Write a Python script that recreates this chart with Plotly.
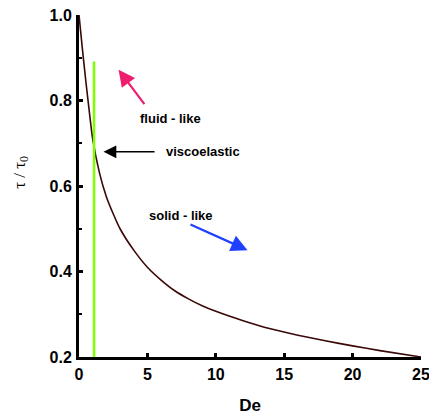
import plotly.graph_objects as go

# Data
de = [0, 0.25, 0.5, 0.75, 1.0, 1.5, 2, 2.5, 3, 4, 5, 6, 7, 8, 9, 10, 12, 14, 16, 18, 20, 22, 25]
tau_ratio = [1.0, 0.92, 0.845, 0.775, 0.71, 0.63, 0.575, 0.535, 0.50, 0.45, 0.41, 0.38, 0.355, 0.336, 0.32, 0.307,
             0.285, 0.266, 0.251, 0.238, 0.226, 0.215, 0.2]

green_x = [1.1, 1.1]
green_y = [0.2, 0.891]

x_ticks = [0, 5, 10, 15, 20, 25]
y_ticks = [0.2, 0.4, 0.6, 0.8, 1.0]
y_tick_labels = ["0.2", "0.4", "0.6", "0.8", "1.0"]

fig = go.Figure()
fig.add_trace(go.Scatter(x=de, y=tau_ratio, mode="lines", line=dict(color="#3a0808", width=1.6, shape="spline", smoothing=0.6), showlegend=False))
fig.add_trace(go.Scatter(x=green_x, y=green_y, mode="lines", line=dict(color="#7fff00", width=2.5), showlegend=False))

bold = dict(family="Liberation Sans, Arial, sans-serif", size=13, color="black")

annotations = [
    # pink arrow
    dict(x=2.89, y=0.872, ax=5.0, ay=0.782, xref="x", yref="y", axref="x", ayref="y",
         showarrow=True, arrowhead=2, arrowsize=1.5, arrowwidth=2.2, arrowcolor="#ee1e6e", text=" "),
    dict(x=6.69, y=0.757, text="<b>fluid - like</b>", showarrow=False, font=bold, xanchor="center", yanchor="middle"),
    # black arrow
    dict(x=1.79, y=0.68, ax=5.74, ay=0.68, xref="x", yref="y", axref="x", ayref="y",
         showarrow=True, arrowhead=2, arrowsize=1.6, arrowwidth=1.6, arrowcolor="black", text=" "),
    dict(x=6.18, y=0.68, text="<b>viscoelastic</b>", showarrow=False, font=bold, xanchor="left", yanchor="middle"),
    # blue arrow
    dict(x=12.32, y=0.45, ax=7.93, ay=0.513, xref="x", yref="y", axref="x", ayref="y",
         showarrow=True, arrowhead=2, arrowsize=1.5, arrowwidth=2.2, arrowcolor="#2040ff", text=" "),
    dict(x=7.42, y=0.532, text="<b>solid - like</b>", showarrow=False, font=bold, xanchor="center", yanchor="middle"),
    # y-axis title
    dict(x=-0.17, y=0.541, xref="paper", yref="paper", text="τ / τ<sub>0</sub>", textangle=-90, showarrow=False,
         xanchor="center", yanchor="middle",
         font=dict(family="Liberation Serif, Times New Roman, serif", size=17, color="black")),
]

fig.update_layout(
    width=429, height=407,
    margin=dict(l=71, r=16, t=7, b=58, autoexpand=False),
    paper_bgcolor="white", plot_bgcolor="white",
    annotations=annotations,
    font=dict(family="Liberation Sans, Arial, sans-serif", color="black"),
)
fig.update_xaxes(
    range=[0, 25], tickvals=x_ticks, ticks="inside", ticklen=4, tickwidth=3, tickcolor="black",
    showline=True, linewidth=3, linecolor="black", showgrid=False, zeroline=False, automargin=False,
    tickfont=dict(family="Liberation Sans, Arial, sans-serif", size=16, color="black", weight="bold"),
    ticklabelstandoff=1, ticklabeloverflow="allow",
    title=dict(text="<b>De</b>", font=dict(family="Liberation Sans, Arial, sans-serif", size=17, color="black"), standoff=20),
)
fig.update_yaxes(
    range=[0.2, 1.0], tickvals=y_ticks, ticktext=y_tick_labels, ticks="inside", ticklen=4, tickwidth=3, tickcolor="black",
    showline=True, linewidth=3, linecolor="black", showgrid=False, zeroline=False, automargin=False,
    minor=dict(tickvals=[0.3, 0.5, 0.7, 0.9], ticks="inside", ticklen=3, tickwidth=2, tickcolor="black"),
    tickfont=dict(family="Liberation Sans, Arial, sans-serif", size=16, color="black", weight="bold"),
    ticklabelstandoff=1, ticklabeloverflow="allow",
)

fig.write_html("out.html")
